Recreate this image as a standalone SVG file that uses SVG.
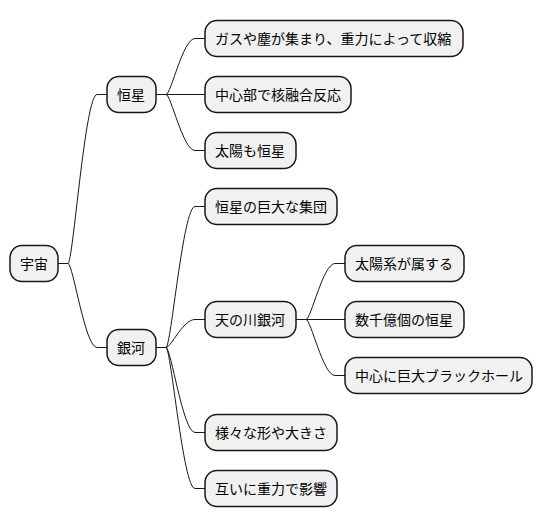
<svg xmlns="http://www.w3.org/2000/svg" width="544" height="527" viewBox="0 0 544 527">
<style>
.n rect{fill:#F1F1F1;stroke:#181818;stroke-width:1.5}
.n text{font-family:"Noto Sans CJK JP","Noto Sans",sans-serif;font-size:14px;fill:#000}
.c path{fill:none;stroke:#181818;stroke-width:1}
</style>
<rect width="544" height="527" fill="#FFFFFF"/>
<g class="c" id="connectors">
<path d="M58,263.5 H68 C73,263.5 85,94.5 97,94.5 H107"/>
<path d="M58,263.5 H68 C73,263.5 85,347.5 97,347.5 H107"/>
<path d="M156,94.5 H166 C171,94.5 183,38.5 195,38.5 H205"/>
<path d="M156,94.5 H205"/>
<path d="M156,94.5 H166 C171,94.5 183,150.5 195,150.5 H205"/>
<path d="M156,347.5 H166 C171,347.5 183,206.5 195,206.5 H205"/>
<path d="M156,347.5 H166 C171,347.5 183,319.5 195,319.5 H205"/>
<path d="M156,347.5 H166 C171,347.5 183,432.5 195,432.5 H205"/>
<path d="M156,347.5 H166 C171,347.5 183,488.5 195,488.5 H205"/>
<path d="M296,319.5 H306 C311,319.5 323,263.5 335,263.5 H345"/>
<path d="M296,319.5 H345"/>
<path d="M296,319.5 H306 C311,319.5 323,375.5 335,375.5 H345"/>
</g>
<g class="n" id="n-uchu"><rect x="10" y="245.5" width="48" height="36" rx="12"/><text x="20" y="268.5">宇宙</text></g>
<g class="n" id="n-kousei"><rect x="107" y="76.5" width="49" height="36" rx="12"/><text x="117" y="99.5">恒星</text></g>
<g class="n" id="n-ginga"><rect x="107" y="329.5" width="49" height="36" rx="12"/><text x="117" y="352.5">銀河</text></g>
<g class="n" id="n-gas"><rect x="205" y="20.5" width="258" height="36" rx="12"/><text x="215" y="43.5">ガスや塵が集まり、重力によって収縮</text></g>
<g class="n" id="n-kakuyugo"><rect x="205" y="76.5" width="146" height="36" rx="12"/><text x="215" y="99.5">中心部で核融合反応</text></g>
<g class="n" id="n-taiyo"><rect x="205" y="132.5" width="91" height="36" rx="12"/><text x="215" y="155.5">太陽も恒星</text></g>
<g class="n" id="n-shudan"><rect x="205" y="188.5" width="132" height="36" rx="12"/><text x="215" y="211.5">恒星の巨大な集団</text></g>
<g class="n" id="n-amanogawa"><rect x="205" y="301.5" width="91" height="36" rx="12"/><text x="215" y="324.5">天の川銀河</text></g>
<g class="n" id="n-samazama"><rect x="205" y="414.5" width="132" height="36" rx="12"/><text x="215" y="437.5">様々な形や大きさ</text></g>
<g class="n" id="n-tagai"><rect x="205" y="470.5" width="132" height="36" rx="12"/><text x="215" y="493.5">互いに重力で影響</text></g>
<g class="n" id="n-taiyokei"><rect x="345" y="245.5" width="119" height="36" rx="12"/><text x="355" y="268.5">太陽系が属する</text></g>
<g class="n" id="n-suusenoku"><rect x="345" y="301.5" width="119" height="36" rx="12"/><text x="355" y="324.5">数千億個の恒星</text></g>
<g class="n" id="n-blackhole"><rect x="345" y="357.5" width="187" height="36" rx="12"/><text x="355" y="380.5">中心に巨大ブラックホール</text></g>
</svg>
